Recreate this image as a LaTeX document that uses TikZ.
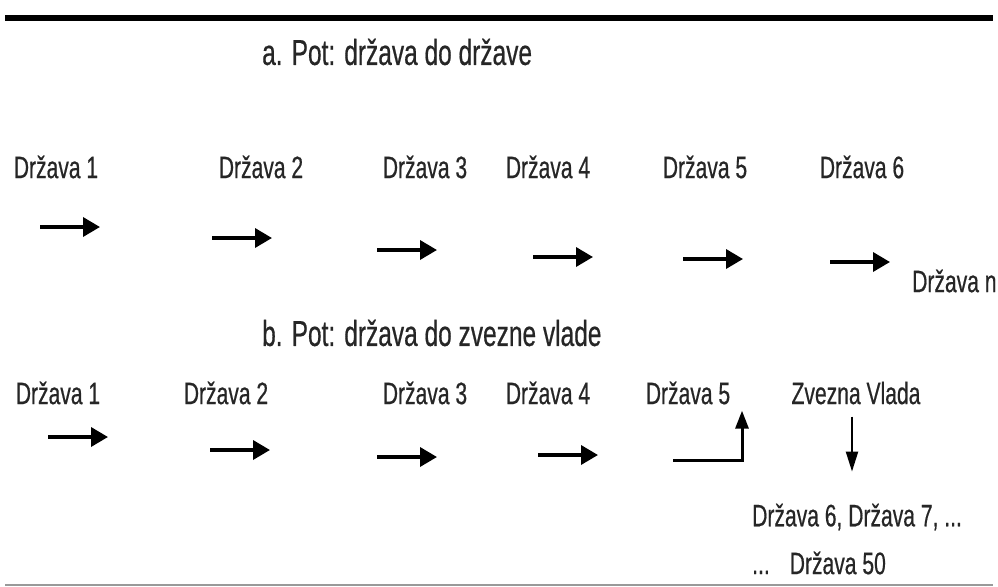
\documentclass[tikz,border=0pt]{standalone}
\usepackage{fontspec}
\setmainfont{Liberation Sans}[FakeStretch=0.68, FakeBold=0.5]
\usetikzlibrary{arrows.meta, positioning}

\begin{document}
\begin{tikzpicture}[
    x=1pt, y=-1pt,
    lbl/.style={inner sep=0pt, text=black!85, font=\fontsize{31}{34}\selectfont},
    heading/.style={inner sep=0pt, text=black!85, font=\fontsize{36}{40}\selectfont},
    arrow/.style={-{Triangle[length=17pt,width=19pt]}, line width=3.5pt, draw=black},
    uparrow/.style={-{Triangle[length=18pt,width=13pt]}, line width=3pt, draw=black},
    downarrow/.style={-{Triangle[length=20pt,width=12pt]}, line width=2.2pt, draw=black}
]
\useasboundingbox (0,0) rectangle (998,586);

\draw[line width=6pt] (5,18) -- (993,18);
\draw[line width=1.5pt, draw=black!40] (5,585) -- (993,585);

\node[heading, anchor=west] (ta) at (262,52) {a. Pot: država do države};

\foreach \i/\x in {1/56, 2/261, 3/425, 4/548, 5/705, 6/862}
    \node[lbl] (a\i) at (\x,167) {Država \i};
\node[lbl, anchor=west] (an) at (912,281) {Država n};

\foreach \i/\x/\y in {1/40/227, 2/212/238, 3/377/250, 4/533/257, 5/683/259, 6/830/262} {
    \coordinate (pa\i) at (\x,\y);
    \draw[arrow] (pa\i) -- ++(60,0);
}

\node[heading, anchor=west] (tb) at (262,333) {b. Pot: država do zvezne vlade};

\foreach \i/\x in {1/58, 2/226, 3/425, 4/548, 5/688}
    \node[lbl] (b\i) at (\x,393) {Država \i};
\node[lbl] (zv) at (856,393) {Zvezna Vlada};

\foreach \i/\x/\y in {1/48/437, 2/210/450, 3/377/457, 4/538/455} {
    \coordinate (pb\i) at (\x,\y);
    \draw[arrow] (pb\i) -- ++(60,0);
}

\node[lbl, anchor=west] (d67) at (752,517) {Država 6, Država 7, ...};
\node[lbl, anchor=west] (d50) at (752,563) {...\hspace{20pt}Država 50};

\draw[uparrow] (b5.south) ++(-15,56) -| ++(69,-50);
\draw[downarrow] (zv.south) ++(-4,12) -- ++(0,55);

\end{tikzpicture}
\end{document}
